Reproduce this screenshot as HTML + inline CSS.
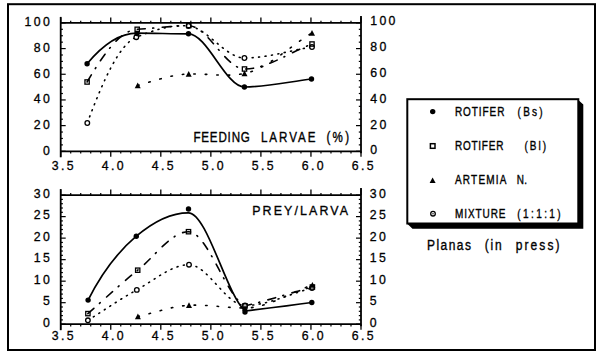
<!DOCTYPE html><html><head><meta charset="utf-8"><style>html,body{margin:0;padding:0;background:#fff;} svg{display:block} text{font-family:"Liberation Sans", sans-serif;fill:#000;stroke:#000;stroke-width:0.3px}</style></head><body>
<svg width="600" height="357" viewBox="0 0 600 357">
<rect x="0" y="0" width="600" height="357" fill="#fff"/>
<rect x="8" y="4.2" width="587" height="345.8" fill="none" stroke="#000" stroke-width="2"/>
<line x1="60.70" y1="16.90" x2="60.70" y2="157.30" stroke="#000" stroke-width="1.8"/>
<line x1="361.00" y1="15.90" x2="361.00" y2="153.30" stroke="#000" stroke-width="1.8"/>
<line x1="60.70" y1="22.90" x2="361.00" y2="22.90" stroke="#000" stroke-width="1.7"/>
<line x1="60.70" y1="151.30" x2="361.00" y2="151.30" stroke="#000" stroke-width="1.7"/>
<line x1="60.70" y1="17.40" x2="60.70" y2="22.90" stroke="#000" stroke-width="1.3"/>
<line x1="60.70" y1="151.30" x2="60.70" y2="156.80" stroke="#000" stroke-width="1.3"/>
<line x1="70.71" y1="20.70" x2="70.71" y2="22.90" stroke="#000" stroke-width="1.2"/>
<line x1="70.71" y1="151.30" x2="70.71" y2="153.50" stroke="#000" stroke-width="1.2"/>
<line x1="80.72" y1="20.70" x2="80.72" y2="22.90" stroke="#000" stroke-width="1.2"/>
<line x1="80.72" y1="151.30" x2="80.72" y2="153.50" stroke="#000" stroke-width="1.2"/>
<line x1="90.73" y1="20.70" x2="90.73" y2="22.90" stroke="#000" stroke-width="1.2"/>
<line x1="90.73" y1="151.30" x2="90.73" y2="153.50" stroke="#000" stroke-width="1.2"/>
<line x1="100.74" y1="20.70" x2="100.74" y2="22.90" stroke="#000" stroke-width="1.2"/>
<line x1="100.74" y1="151.30" x2="100.74" y2="153.50" stroke="#000" stroke-width="1.2"/>
<line x1="110.75" y1="17.40" x2="110.75" y2="22.90" stroke="#000" stroke-width="1.3"/>
<line x1="110.75" y1="151.30" x2="110.75" y2="156.80" stroke="#000" stroke-width="1.3"/>
<line x1="120.76" y1="20.70" x2="120.76" y2="22.90" stroke="#000" stroke-width="1.2"/>
<line x1="120.76" y1="151.30" x2="120.76" y2="153.50" stroke="#000" stroke-width="1.2"/>
<line x1="130.77" y1="20.70" x2="130.77" y2="22.90" stroke="#000" stroke-width="1.2"/>
<line x1="130.77" y1="151.30" x2="130.77" y2="153.50" stroke="#000" stroke-width="1.2"/>
<line x1="140.78" y1="20.70" x2="140.78" y2="22.90" stroke="#000" stroke-width="1.2"/>
<line x1="140.78" y1="151.30" x2="140.78" y2="153.50" stroke="#000" stroke-width="1.2"/>
<line x1="150.79" y1="20.70" x2="150.79" y2="22.90" stroke="#000" stroke-width="1.2"/>
<line x1="150.79" y1="151.30" x2="150.79" y2="153.50" stroke="#000" stroke-width="1.2"/>
<line x1="160.80" y1="17.40" x2="160.80" y2="22.90" stroke="#000" stroke-width="1.3"/>
<line x1="160.80" y1="151.30" x2="160.80" y2="156.80" stroke="#000" stroke-width="1.3"/>
<line x1="170.81" y1="20.70" x2="170.81" y2="22.90" stroke="#000" stroke-width="1.2"/>
<line x1="170.81" y1="151.30" x2="170.81" y2="153.50" stroke="#000" stroke-width="1.2"/>
<line x1="180.82" y1="20.70" x2="180.82" y2="22.90" stroke="#000" stroke-width="1.2"/>
<line x1="180.82" y1="151.30" x2="180.82" y2="153.50" stroke="#000" stroke-width="1.2"/>
<line x1="190.83" y1="20.70" x2="190.83" y2="22.90" stroke="#000" stroke-width="1.2"/>
<line x1="190.83" y1="151.30" x2="190.83" y2="153.50" stroke="#000" stroke-width="1.2"/>
<line x1="200.84" y1="20.70" x2="200.84" y2="22.90" stroke="#000" stroke-width="1.2"/>
<line x1="200.84" y1="151.30" x2="200.84" y2="153.50" stroke="#000" stroke-width="1.2"/>
<line x1="210.85" y1="17.40" x2="210.85" y2="22.90" stroke="#000" stroke-width="1.3"/>
<line x1="210.85" y1="151.30" x2="210.85" y2="156.80" stroke="#000" stroke-width="1.3"/>
<line x1="220.86" y1="20.70" x2="220.86" y2="22.90" stroke="#000" stroke-width="1.2"/>
<line x1="220.86" y1="151.30" x2="220.86" y2="153.50" stroke="#000" stroke-width="1.2"/>
<line x1="230.87" y1="20.70" x2="230.87" y2="22.90" stroke="#000" stroke-width="1.2"/>
<line x1="230.87" y1="151.30" x2="230.87" y2="153.50" stroke="#000" stroke-width="1.2"/>
<line x1="240.88" y1="20.70" x2="240.88" y2="22.90" stroke="#000" stroke-width="1.2"/>
<line x1="240.88" y1="151.30" x2="240.88" y2="153.50" stroke="#000" stroke-width="1.2"/>
<line x1="250.89" y1="20.70" x2="250.89" y2="22.90" stroke="#000" stroke-width="1.2"/>
<line x1="250.89" y1="151.30" x2="250.89" y2="153.50" stroke="#000" stroke-width="1.2"/>
<line x1="260.90" y1="17.40" x2="260.90" y2="22.90" stroke="#000" stroke-width="1.3"/>
<line x1="260.90" y1="151.30" x2="260.90" y2="156.80" stroke="#000" stroke-width="1.3"/>
<line x1="270.91" y1="20.70" x2="270.91" y2="22.90" stroke="#000" stroke-width="1.2"/>
<line x1="270.91" y1="151.30" x2="270.91" y2="153.50" stroke="#000" stroke-width="1.2"/>
<line x1="280.92" y1="20.70" x2="280.92" y2="22.90" stroke="#000" stroke-width="1.2"/>
<line x1="280.92" y1="151.30" x2="280.92" y2="153.50" stroke="#000" stroke-width="1.2"/>
<line x1="290.93" y1="20.70" x2="290.93" y2="22.90" stroke="#000" stroke-width="1.2"/>
<line x1="290.93" y1="151.30" x2="290.93" y2="153.50" stroke="#000" stroke-width="1.2"/>
<line x1="300.94" y1="20.70" x2="300.94" y2="22.90" stroke="#000" stroke-width="1.2"/>
<line x1="300.94" y1="151.30" x2="300.94" y2="153.50" stroke="#000" stroke-width="1.2"/>
<line x1="310.95" y1="17.40" x2="310.95" y2="22.90" stroke="#000" stroke-width="1.3"/>
<line x1="310.95" y1="151.30" x2="310.95" y2="156.80" stroke="#000" stroke-width="1.3"/>
<line x1="320.96" y1="20.70" x2="320.96" y2="22.90" stroke="#000" stroke-width="1.2"/>
<line x1="320.96" y1="151.30" x2="320.96" y2="153.50" stroke="#000" stroke-width="1.2"/>
<line x1="330.97" y1="20.70" x2="330.97" y2="22.90" stroke="#000" stroke-width="1.2"/>
<line x1="330.97" y1="151.30" x2="330.97" y2="153.50" stroke="#000" stroke-width="1.2"/>
<line x1="340.98" y1="20.70" x2="340.98" y2="22.90" stroke="#000" stroke-width="1.2"/>
<line x1="340.98" y1="151.30" x2="340.98" y2="153.50" stroke="#000" stroke-width="1.2"/>
<line x1="350.99" y1="20.70" x2="350.99" y2="22.90" stroke="#000" stroke-width="1.2"/>
<line x1="350.99" y1="151.30" x2="350.99" y2="153.50" stroke="#000" stroke-width="1.2"/>
<line x1="361.00" y1="17.40" x2="361.00" y2="22.90" stroke="#000" stroke-width="1.3"/>
<line x1="361.00" y1="151.30" x2="361.00" y2="156.80" stroke="#000" stroke-width="1.3"/>
<line x1="60.70" y1="151.30" x2="65.70" y2="151.30" stroke="#000" stroke-width="1.2"/>
<line x1="356.00" y1="151.30" x2="361.00" y2="151.30" stroke="#000" stroke-width="1.2"/>
<line x1="60.70" y1="144.88" x2="62.90" y2="144.88" stroke="#000" stroke-width="1.2"/>
<line x1="358.80" y1="144.88" x2="361.00" y2="144.88" stroke="#000" stroke-width="1.2"/>
<line x1="60.70" y1="138.46" x2="62.90" y2="138.46" stroke="#000" stroke-width="1.2"/>
<line x1="358.80" y1="138.46" x2="361.00" y2="138.46" stroke="#000" stroke-width="1.2"/>
<line x1="60.70" y1="132.04" x2="62.90" y2="132.04" stroke="#000" stroke-width="1.2"/>
<line x1="358.80" y1="132.04" x2="361.00" y2="132.04" stroke="#000" stroke-width="1.2"/>
<line x1="60.70" y1="125.62" x2="65.70" y2="125.62" stroke="#000" stroke-width="1.2"/>
<line x1="356.00" y1="125.62" x2="361.00" y2="125.62" stroke="#000" stroke-width="1.2"/>
<line x1="60.70" y1="119.20" x2="62.90" y2="119.20" stroke="#000" stroke-width="1.2"/>
<line x1="358.80" y1="119.20" x2="361.00" y2="119.20" stroke="#000" stroke-width="1.2"/>
<line x1="60.70" y1="112.78" x2="62.90" y2="112.78" stroke="#000" stroke-width="1.2"/>
<line x1="358.80" y1="112.78" x2="361.00" y2="112.78" stroke="#000" stroke-width="1.2"/>
<line x1="60.70" y1="106.36" x2="62.90" y2="106.36" stroke="#000" stroke-width="1.2"/>
<line x1="358.80" y1="106.36" x2="361.00" y2="106.36" stroke="#000" stroke-width="1.2"/>
<line x1="60.70" y1="99.94" x2="65.70" y2="99.94" stroke="#000" stroke-width="1.2"/>
<line x1="356.00" y1="99.94" x2="361.00" y2="99.94" stroke="#000" stroke-width="1.2"/>
<line x1="60.70" y1="93.52" x2="62.90" y2="93.52" stroke="#000" stroke-width="1.2"/>
<line x1="358.80" y1="93.52" x2="361.00" y2="93.52" stroke="#000" stroke-width="1.2"/>
<line x1="60.70" y1="87.10" x2="62.90" y2="87.10" stroke="#000" stroke-width="1.2"/>
<line x1="358.80" y1="87.10" x2="361.00" y2="87.10" stroke="#000" stroke-width="1.2"/>
<line x1="60.70" y1="80.68" x2="62.90" y2="80.68" stroke="#000" stroke-width="1.2"/>
<line x1="358.80" y1="80.68" x2="361.00" y2="80.68" stroke="#000" stroke-width="1.2"/>
<line x1="60.70" y1="74.26" x2="65.70" y2="74.26" stroke="#000" stroke-width="1.2"/>
<line x1="356.00" y1="74.26" x2="361.00" y2="74.26" stroke="#000" stroke-width="1.2"/>
<line x1="60.70" y1="67.84" x2="62.90" y2="67.84" stroke="#000" stroke-width="1.2"/>
<line x1="358.80" y1="67.84" x2="361.00" y2="67.84" stroke="#000" stroke-width="1.2"/>
<line x1="60.70" y1="61.42" x2="62.90" y2="61.42" stroke="#000" stroke-width="1.2"/>
<line x1="358.80" y1="61.42" x2="361.00" y2="61.42" stroke="#000" stroke-width="1.2"/>
<line x1="60.70" y1="55.00" x2="62.90" y2="55.00" stroke="#000" stroke-width="1.2"/>
<line x1="358.80" y1="55.00" x2="361.00" y2="55.00" stroke="#000" stroke-width="1.2"/>
<line x1="60.70" y1="48.58" x2="65.70" y2="48.58" stroke="#000" stroke-width="1.2"/>
<line x1="356.00" y1="48.58" x2="361.00" y2="48.58" stroke="#000" stroke-width="1.2"/>
<line x1="60.70" y1="42.16" x2="62.90" y2="42.16" stroke="#000" stroke-width="1.2"/>
<line x1="358.80" y1="42.16" x2="361.00" y2="42.16" stroke="#000" stroke-width="1.2"/>
<line x1="60.70" y1="35.74" x2="62.90" y2="35.74" stroke="#000" stroke-width="1.2"/>
<line x1="358.80" y1="35.74" x2="361.00" y2="35.74" stroke="#000" stroke-width="1.2"/>
<line x1="60.70" y1="29.32" x2="62.90" y2="29.32" stroke="#000" stroke-width="1.2"/>
<line x1="358.80" y1="29.32" x2="361.00" y2="29.32" stroke="#000" stroke-width="1.2"/>
<line x1="60.70" y1="22.90" x2="65.70" y2="22.90" stroke="#000" stroke-width="1.2"/>
<line x1="356.00" y1="22.90" x2="361.00" y2="22.90" stroke="#000" stroke-width="1.2"/>
<line x1="60.70" y1="189.10" x2="60.70" y2="330.20" stroke="#000" stroke-width="1.8"/>
<line x1="361.00" y1="188.10" x2="361.00" y2="326.20" stroke="#000" stroke-width="1.8"/>
<line x1="60.70" y1="195.10" x2="361.00" y2="195.10" stroke="#000" stroke-width="1.7"/>
<line x1="60.70" y1="324.20" x2="361.00" y2="324.20" stroke="#000" stroke-width="1.7"/>
<line x1="60.70" y1="189.60" x2="60.70" y2="195.10" stroke="#000" stroke-width="1.3"/>
<line x1="60.70" y1="324.20" x2="60.70" y2="329.70" stroke="#000" stroke-width="1.3"/>
<line x1="70.71" y1="192.90" x2="70.71" y2="195.10" stroke="#000" stroke-width="1.2"/>
<line x1="70.71" y1="324.20" x2="70.71" y2="326.40" stroke="#000" stroke-width="1.2"/>
<line x1="80.72" y1="192.90" x2="80.72" y2="195.10" stroke="#000" stroke-width="1.2"/>
<line x1="80.72" y1="324.20" x2="80.72" y2="326.40" stroke="#000" stroke-width="1.2"/>
<line x1="90.73" y1="192.90" x2="90.73" y2="195.10" stroke="#000" stroke-width="1.2"/>
<line x1="90.73" y1="324.20" x2="90.73" y2="326.40" stroke="#000" stroke-width="1.2"/>
<line x1="100.74" y1="192.90" x2="100.74" y2="195.10" stroke="#000" stroke-width="1.2"/>
<line x1="100.74" y1="324.20" x2="100.74" y2="326.40" stroke="#000" stroke-width="1.2"/>
<line x1="110.75" y1="189.60" x2="110.75" y2="195.10" stroke="#000" stroke-width="1.3"/>
<line x1="110.75" y1="324.20" x2="110.75" y2="329.70" stroke="#000" stroke-width="1.3"/>
<line x1="120.76" y1="192.90" x2="120.76" y2="195.10" stroke="#000" stroke-width="1.2"/>
<line x1="120.76" y1="324.20" x2="120.76" y2="326.40" stroke="#000" stroke-width="1.2"/>
<line x1="130.77" y1="192.90" x2="130.77" y2="195.10" stroke="#000" stroke-width="1.2"/>
<line x1="130.77" y1="324.20" x2="130.77" y2="326.40" stroke="#000" stroke-width="1.2"/>
<line x1="140.78" y1="192.90" x2="140.78" y2="195.10" stroke="#000" stroke-width="1.2"/>
<line x1="140.78" y1="324.20" x2="140.78" y2="326.40" stroke="#000" stroke-width="1.2"/>
<line x1="150.79" y1="192.90" x2="150.79" y2="195.10" stroke="#000" stroke-width="1.2"/>
<line x1="150.79" y1="324.20" x2="150.79" y2="326.40" stroke="#000" stroke-width="1.2"/>
<line x1="160.80" y1="189.60" x2="160.80" y2="195.10" stroke="#000" stroke-width="1.3"/>
<line x1="160.80" y1="324.20" x2="160.80" y2="329.70" stroke="#000" stroke-width="1.3"/>
<line x1="170.81" y1="192.90" x2="170.81" y2="195.10" stroke="#000" stroke-width="1.2"/>
<line x1="170.81" y1="324.20" x2="170.81" y2="326.40" stroke="#000" stroke-width="1.2"/>
<line x1="180.82" y1="192.90" x2="180.82" y2="195.10" stroke="#000" stroke-width="1.2"/>
<line x1="180.82" y1="324.20" x2="180.82" y2="326.40" stroke="#000" stroke-width="1.2"/>
<line x1="190.83" y1="192.90" x2="190.83" y2="195.10" stroke="#000" stroke-width="1.2"/>
<line x1="190.83" y1="324.20" x2="190.83" y2="326.40" stroke="#000" stroke-width="1.2"/>
<line x1="200.84" y1="192.90" x2="200.84" y2="195.10" stroke="#000" stroke-width="1.2"/>
<line x1="200.84" y1="324.20" x2="200.84" y2="326.40" stroke="#000" stroke-width="1.2"/>
<line x1="210.85" y1="189.60" x2="210.85" y2="195.10" stroke="#000" stroke-width="1.3"/>
<line x1="210.85" y1="324.20" x2="210.85" y2="329.70" stroke="#000" stroke-width="1.3"/>
<line x1="220.86" y1="192.90" x2="220.86" y2="195.10" stroke="#000" stroke-width="1.2"/>
<line x1="220.86" y1="324.20" x2="220.86" y2="326.40" stroke="#000" stroke-width="1.2"/>
<line x1="230.87" y1="192.90" x2="230.87" y2="195.10" stroke="#000" stroke-width="1.2"/>
<line x1="230.87" y1="324.20" x2="230.87" y2="326.40" stroke="#000" stroke-width="1.2"/>
<line x1="240.88" y1="192.90" x2="240.88" y2="195.10" stroke="#000" stroke-width="1.2"/>
<line x1="240.88" y1="324.20" x2="240.88" y2="326.40" stroke="#000" stroke-width="1.2"/>
<line x1="250.89" y1="192.90" x2="250.89" y2="195.10" stroke="#000" stroke-width="1.2"/>
<line x1="250.89" y1="324.20" x2="250.89" y2="326.40" stroke="#000" stroke-width="1.2"/>
<line x1="260.90" y1="189.60" x2="260.90" y2="195.10" stroke="#000" stroke-width="1.3"/>
<line x1="260.90" y1="324.20" x2="260.90" y2="329.70" stroke="#000" stroke-width="1.3"/>
<line x1="270.91" y1="192.90" x2="270.91" y2="195.10" stroke="#000" stroke-width="1.2"/>
<line x1="270.91" y1="324.20" x2="270.91" y2="326.40" stroke="#000" stroke-width="1.2"/>
<line x1="280.92" y1="192.90" x2="280.92" y2="195.10" stroke="#000" stroke-width="1.2"/>
<line x1="280.92" y1="324.20" x2="280.92" y2="326.40" stroke="#000" stroke-width="1.2"/>
<line x1="290.93" y1="192.90" x2="290.93" y2="195.10" stroke="#000" stroke-width="1.2"/>
<line x1="290.93" y1="324.20" x2="290.93" y2="326.40" stroke="#000" stroke-width="1.2"/>
<line x1="300.94" y1="192.90" x2="300.94" y2="195.10" stroke="#000" stroke-width="1.2"/>
<line x1="300.94" y1="324.20" x2="300.94" y2="326.40" stroke="#000" stroke-width="1.2"/>
<line x1="310.95" y1="189.60" x2="310.95" y2="195.10" stroke="#000" stroke-width="1.3"/>
<line x1="310.95" y1="324.20" x2="310.95" y2="329.70" stroke="#000" stroke-width="1.3"/>
<line x1="320.96" y1="192.90" x2="320.96" y2="195.10" stroke="#000" stroke-width="1.2"/>
<line x1="320.96" y1="324.20" x2="320.96" y2="326.40" stroke="#000" stroke-width="1.2"/>
<line x1="330.97" y1="192.90" x2="330.97" y2="195.10" stroke="#000" stroke-width="1.2"/>
<line x1="330.97" y1="324.20" x2="330.97" y2="326.40" stroke="#000" stroke-width="1.2"/>
<line x1="340.98" y1="192.90" x2="340.98" y2="195.10" stroke="#000" stroke-width="1.2"/>
<line x1="340.98" y1="324.20" x2="340.98" y2="326.40" stroke="#000" stroke-width="1.2"/>
<line x1="350.99" y1="192.90" x2="350.99" y2="195.10" stroke="#000" stroke-width="1.2"/>
<line x1="350.99" y1="324.20" x2="350.99" y2="326.40" stroke="#000" stroke-width="1.2"/>
<line x1="361.00" y1="189.60" x2="361.00" y2="195.10" stroke="#000" stroke-width="1.3"/>
<line x1="361.00" y1="324.20" x2="361.00" y2="329.70" stroke="#000" stroke-width="1.3"/>
<line x1="60.70" y1="324.20" x2="65.70" y2="324.20" stroke="#000" stroke-width="1.2"/>
<line x1="356.00" y1="324.20" x2="361.00" y2="324.20" stroke="#000" stroke-width="1.2"/>
<line x1="60.70" y1="319.90" x2="62.90" y2="319.90" stroke="#000" stroke-width="1.2"/>
<line x1="358.80" y1="319.90" x2="361.00" y2="319.90" stroke="#000" stroke-width="1.2"/>
<line x1="60.70" y1="315.59" x2="62.90" y2="315.59" stroke="#000" stroke-width="1.2"/>
<line x1="358.80" y1="315.59" x2="361.00" y2="315.59" stroke="#000" stroke-width="1.2"/>
<line x1="60.70" y1="311.29" x2="62.90" y2="311.29" stroke="#000" stroke-width="1.2"/>
<line x1="358.80" y1="311.29" x2="361.00" y2="311.29" stroke="#000" stroke-width="1.2"/>
<line x1="60.70" y1="306.99" x2="62.90" y2="306.99" stroke="#000" stroke-width="1.2"/>
<line x1="358.80" y1="306.99" x2="361.00" y2="306.99" stroke="#000" stroke-width="1.2"/>
<line x1="60.70" y1="302.68" x2="65.70" y2="302.68" stroke="#000" stroke-width="1.2"/>
<line x1="356.00" y1="302.68" x2="361.00" y2="302.68" stroke="#000" stroke-width="1.2"/>
<line x1="60.70" y1="298.38" x2="62.90" y2="298.38" stroke="#000" stroke-width="1.2"/>
<line x1="358.80" y1="298.38" x2="361.00" y2="298.38" stroke="#000" stroke-width="1.2"/>
<line x1="60.70" y1="294.08" x2="62.90" y2="294.08" stroke="#000" stroke-width="1.2"/>
<line x1="358.80" y1="294.08" x2="361.00" y2="294.08" stroke="#000" stroke-width="1.2"/>
<line x1="60.70" y1="289.77" x2="62.90" y2="289.77" stroke="#000" stroke-width="1.2"/>
<line x1="358.80" y1="289.77" x2="361.00" y2="289.77" stroke="#000" stroke-width="1.2"/>
<line x1="60.70" y1="285.47" x2="62.90" y2="285.47" stroke="#000" stroke-width="1.2"/>
<line x1="358.80" y1="285.47" x2="361.00" y2="285.47" stroke="#000" stroke-width="1.2"/>
<line x1="60.70" y1="281.17" x2="65.70" y2="281.17" stroke="#000" stroke-width="1.2"/>
<line x1="356.00" y1="281.17" x2="361.00" y2="281.17" stroke="#000" stroke-width="1.2"/>
<line x1="60.70" y1="276.86" x2="62.90" y2="276.86" stroke="#000" stroke-width="1.2"/>
<line x1="358.80" y1="276.86" x2="361.00" y2="276.86" stroke="#000" stroke-width="1.2"/>
<line x1="60.70" y1="272.56" x2="62.90" y2="272.56" stroke="#000" stroke-width="1.2"/>
<line x1="358.80" y1="272.56" x2="361.00" y2="272.56" stroke="#000" stroke-width="1.2"/>
<line x1="60.70" y1="268.26" x2="62.90" y2="268.26" stroke="#000" stroke-width="1.2"/>
<line x1="358.80" y1="268.26" x2="361.00" y2="268.26" stroke="#000" stroke-width="1.2"/>
<line x1="60.70" y1="263.95" x2="62.90" y2="263.95" stroke="#000" stroke-width="1.2"/>
<line x1="358.80" y1="263.95" x2="361.00" y2="263.95" stroke="#000" stroke-width="1.2"/>
<line x1="60.70" y1="259.65" x2="65.70" y2="259.65" stroke="#000" stroke-width="1.2"/>
<line x1="356.00" y1="259.65" x2="361.00" y2="259.65" stroke="#000" stroke-width="1.2"/>
<line x1="60.70" y1="255.35" x2="62.90" y2="255.35" stroke="#000" stroke-width="1.2"/>
<line x1="358.80" y1="255.35" x2="361.00" y2="255.35" stroke="#000" stroke-width="1.2"/>
<line x1="60.70" y1="251.04" x2="62.90" y2="251.04" stroke="#000" stroke-width="1.2"/>
<line x1="358.80" y1="251.04" x2="361.00" y2="251.04" stroke="#000" stroke-width="1.2"/>
<line x1="60.70" y1="246.74" x2="62.90" y2="246.74" stroke="#000" stroke-width="1.2"/>
<line x1="358.80" y1="246.74" x2="361.00" y2="246.74" stroke="#000" stroke-width="1.2"/>
<line x1="60.70" y1="242.44" x2="62.90" y2="242.44" stroke="#000" stroke-width="1.2"/>
<line x1="358.80" y1="242.44" x2="361.00" y2="242.44" stroke="#000" stroke-width="1.2"/>
<line x1="60.70" y1="238.13" x2="65.70" y2="238.13" stroke="#000" stroke-width="1.2"/>
<line x1="356.00" y1="238.13" x2="361.00" y2="238.13" stroke="#000" stroke-width="1.2"/>
<line x1="60.70" y1="233.83" x2="62.90" y2="233.83" stroke="#000" stroke-width="1.2"/>
<line x1="358.80" y1="233.83" x2="361.00" y2="233.83" stroke="#000" stroke-width="1.2"/>
<line x1="60.70" y1="229.53" x2="62.90" y2="229.53" stroke="#000" stroke-width="1.2"/>
<line x1="358.80" y1="229.53" x2="361.00" y2="229.53" stroke="#000" stroke-width="1.2"/>
<line x1="60.70" y1="225.22" x2="62.90" y2="225.22" stroke="#000" stroke-width="1.2"/>
<line x1="358.80" y1="225.22" x2="361.00" y2="225.22" stroke="#000" stroke-width="1.2"/>
<line x1="60.70" y1="220.92" x2="62.90" y2="220.92" stroke="#000" stroke-width="1.2"/>
<line x1="358.80" y1="220.92" x2="361.00" y2="220.92" stroke="#000" stroke-width="1.2"/>
<line x1="60.70" y1="216.62" x2="65.70" y2="216.62" stroke="#000" stroke-width="1.2"/>
<line x1="356.00" y1="216.62" x2="361.00" y2="216.62" stroke="#000" stroke-width="1.2"/>
<line x1="60.70" y1="212.31" x2="62.90" y2="212.31" stroke="#000" stroke-width="1.2"/>
<line x1="358.80" y1="212.31" x2="361.00" y2="212.31" stroke="#000" stroke-width="1.2"/>
<line x1="60.70" y1="208.01" x2="62.90" y2="208.01" stroke="#000" stroke-width="1.2"/>
<line x1="358.80" y1="208.01" x2="361.00" y2="208.01" stroke="#000" stroke-width="1.2"/>
<line x1="60.70" y1="203.71" x2="62.90" y2="203.71" stroke="#000" stroke-width="1.2"/>
<line x1="358.80" y1="203.71" x2="361.00" y2="203.71" stroke="#000" stroke-width="1.2"/>
<line x1="60.70" y1="199.40" x2="62.90" y2="199.40" stroke="#000" stroke-width="1.2"/>
<line x1="358.80" y1="199.40" x2="361.00" y2="199.40" stroke="#000" stroke-width="1.2"/>
<line x1="60.70" y1="195.10" x2="65.70" y2="195.10" stroke="#000" stroke-width="1.2"/>
<line x1="356.00" y1="195.10" x2="361.00" y2="195.10" stroke="#000" stroke-width="1.2"/>
<text transform="translate(52.40,154.70) scale(1,1.03)" font-size="12.3" letter-spacing="2.5" text-anchor="end" font-weight="normal">0</text>
<text transform="translate(370.30,154.40) scale(1,1.03)" font-size="12.3" letter-spacing="2.3" text-anchor="start" font-weight="normal">0</text>
<text transform="translate(52.40,129.02) scale(1,1.03)" font-size="12.3" letter-spacing="2.5" text-anchor="end" font-weight="normal">20</text>
<text transform="translate(370.30,128.72) scale(1,1.03)" font-size="12.3" letter-spacing="2.3" text-anchor="start" font-weight="normal">20</text>
<text transform="translate(52.40,103.34) scale(1,1.03)" font-size="12.3" letter-spacing="2.5" text-anchor="end" font-weight="normal">40</text>
<text transform="translate(370.30,103.04) scale(1,1.03)" font-size="12.3" letter-spacing="2.3" text-anchor="start" font-weight="normal">40</text>
<text transform="translate(52.40,77.66) scale(1,1.03)" font-size="12.3" letter-spacing="2.5" text-anchor="end" font-weight="normal">60</text>
<text transform="translate(370.30,76.66) scale(1,1.03)" font-size="12.3" letter-spacing="2.3" text-anchor="start" font-weight="normal">60</text>
<text transform="translate(52.40,51.98) scale(1,1.03)" font-size="12.3" letter-spacing="2.5" text-anchor="end" font-weight="normal">80</text>
<text transform="translate(370.30,50.98) scale(1,1.03)" font-size="12.3" letter-spacing="2.3" text-anchor="start" font-weight="normal">80</text>
<text transform="translate(52.40,26.30) scale(1,1.03)" font-size="12.3" letter-spacing="2.5" text-anchor="end" font-weight="normal">100</text>
<text transform="translate(370.30,25.30) scale(1,1.03)" font-size="12.3" letter-spacing="2.3" text-anchor="start" font-weight="normal">100</text>
<text transform="translate(52.40,326.70) scale(1,1.03)" font-size="12.3" letter-spacing="2.5" text-anchor="end" font-weight="normal">0</text>
<text transform="translate(369.80,326.70) scale(1,1.03)" font-size="12.3" letter-spacing="2.3" text-anchor="start" font-weight="normal">0</text>
<text transform="translate(52.40,305.18) scale(1,1.03)" font-size="12.3" letter-spacing="2.5" text-anchor="end" font-weight="normal">5</text>
<text transform="translate(369.80,305.18) scale(1,1.03)" font-size="12.3" letter-spacing="2.3" text-anchor="start" font-weight="normal">5</text>
<text transform="translate(52.40,283.67) scale(1,1.03)" font-size="12.3" letter-spacing="2.5" text-anchor="end" font-weight="normal">10</text>
<text transform="translate(369.80,283.67) scale(1,1.03)" font-size="12.3" letter-spacing="2.3" text-anchor="start" font-weight="normal">10</text>
<text transform="translate(52.40,262.15) scale(1,1.03)" font-size="12.3" letter-spacing="2.5" text-anchor="end" font-weight="normal">15</text>
<text transform="translate(369.80,262.15) scale(1,1.03)" font-size="12.3" letter-spacing="2.3" text-anchor="start" font-weight="normal">15</text>
<text transform="translate(52.40,240.63) scale(1,1.03)" font-size="12.3" letter-spacing="2.5" text-anchor="end" font-weight="normal">20</text>
<text transform="translate(369.80,240.63) scale(1,1.03)" font-size="12.3" letter-spacing="2.3" text-anchor="start" font-weight="normal">20</text>
<text transform="translate(52.40,219.12) scale(1,1.03)" font-size="12.3" letter-spacing="2.5" text-anchor="end" font-weight="normal">25</text>
<text transform="translate(369.80,219.12) scale(1,1.03)" font-size="12.3" letter-spacing="2.3" text-anchor="start" font-weight="normal">25</text>
<text transform="translate(52.40,197.60) scale(1,1.03)" font-size="12.3" letter-spacing="2.5" text-anchor="end" font-weight="normal">30</text>
<text transform="translate(369.80,197.60) scale(1,1.03)" font-size="12.3" letter-spacing="2.3" text-anchor="start" font-weight="normal">30</text>
<text transform="translate(51.70,170.20) scale(1,1.03)" font-size="12.3" letter-spacing="2.35" text-anchor="start" font-weight="normal">3.5</text>
<text transform="translate(51.70,340.40) scale(1,1.03)" font-size="12.3" letter-spacing="2.35" text-anchor="start" font-weight="normal">3.5</text>
<text transform="translate(101.70,170.20) scale(1,1.03)" font-size="12.3" letter-spacing="2.35" text-anchor="start" font-weight="normal">4.0</text>
<text transform="translate(101.70,340.40) scale(1,1.03)" font-size="12.3" letter-spacing="2.35" text-anchor="start" font-weight="normal">4.0</text>
<text transform="translate(151.70,170.20) scale(1,1.03)" font-size="12.3" letter-spacing="2.35" text-anchor="start" font-weight="normal">4.5</text>
<text transform="translate(151.70,340.40) scale(1,1.03)" font-size="12.3" letter-spacing="2.35" text-anchor="start" font-weight="normal">4.5</text>
<text transform="translate(201.70,170.20) scale(1,1.03)" font-size="12.3" letter-spacing="2.35" text-anchor="start" font-weight="normal">5.0</text>
<text transform="translate(201.70,340.40) scale(1,1.03)" font-size="12.3" letter-spacing="2.35" text-anchor="start" font-weight="normal">5.0</text>
<text transform="translate(251.70,170.20) scale(1,1.03)" font-size="12.3" letter-spacing="2.35" text-anchor="start" font-weight="normal">5.5</text>
<text transform="translate(251.70,340.40) scale(1,1.03)" font-size="12.3" letter-spacing="2.35" text-anchor="start" font-weight="normal">5.5</text>
<text transform="translate(301.70,170.20) scale(1,1.03)" font-size="12.3" letter-spacing="2.35" text-anchor="start" font-weight="normal">6.0</text>
<text transform="translate(301.70,340.40) scale(1,1.03)" font-size="12.3" letter-spacing="2.35" text-anchor="start" font-weight="normal">6.0</text>
<text transform="translate(351.70,170.20) scale(1,1.03)" font-size="12.3" letter-spacing="2.35" text-anchor="start" font-weight="normal">6.5</text>
<text transform="translate(351.70,340.40) scale(1,1.03)" font-size="12.3" letter-spacing="2.35" text-anchor="start" font-weight="normal">6.5</text>
<path d="M87.10,63.80 C103.73,43.84 120.37,33.20 137.00,33.20 C154.17,33.20 171.33,33.80 188.50,33.80 C207.13,33.80 225.77,87.00 244.40,87.00 C266.77,87.00 289.13,81.68 311.50,79.00" fill="none" stroke="#000" stroke-width="1.7" stroke-linecap="round"/>
<path d="M87.10,82.00 C103.80,53.61 120.50,30.14 137.20,29.30 C154.40,28.44 171.60,25.80 188.80,25.80 C207.37,25.80 225.93,69.00 244.50,69.00 C267.00,69.00 289.50,52.33 312.00,44.00" fill="none" stroke="#000" stroke-width="1.6" stroke-linecap="round" stroke-dasharray="8 7.5 1 8.5"/>
<path d="M87.30,123.00 C103.63,78.90 119.97,43.73 136.30,37.20 C153.70,30.24 171.10,24.26 188.50,26.00 C207.13,27.86 225.77,58.00 244.40,58.00 C266.93,58.00 289.47,50.61 312.00,47.00" fill="none" stroke="#000" stroke-width="1.6" stroke-linecap="round" stroke-dasharray="1 5.5"/>
<path d="M137.70,85.50 C154.70,80.74 171.70,74.51 188.70,74.00 C207.30,73.44 225.90,77.22 244.50,73.50 C267.00,69.00 289.50,46.50 312.00,33.00" fill="none" stroke="#000" stroke-width="1.6" stroke-linecap="round" stroke-dasharray="1.5 10"/>
<circle cx="87.3" cy="123" r="2.3" fill="#fff" stroke="#000" stroke-width="1.3"/>
<circle cx="136.3" cy="37.2" r="2.3" fill="#fff" stroke="#000" stroke-width="1.3"/>
<circle cx="188.5" cy="26" r="2.3" fill="#fff" stroke="#000" stroke-width="1.3"/>
<circle cx="244.4" cy="58" r="2.3" fill="#fff" stroke="#000" stroke-width="1.3"/>
<circle cx="312" cy="47" r="2.3" fill="#fff" stroke="#000" stroke-width="1.3"/>
<polygon points="137.70,82.50 140.70,88.20 134.70,88.20" fill="#000"/>
<polygon points="188.70,71.00 191.70,76.70 185.70,76.70" fill="#000"/>
<polygon points="244.50,70.50 247.50,76.20 241.50,76.20" fill="#000"/>
<polygon points="312.00,30.00 315.00,35.70 309.00,35.70" fill="#000"/>
<rect x="84.95" y="79.85" width="4.3" height="4.3" fill="none" stroke="#000" stroke-width="1.3"/>
<rect x="135.05" y="27.15" width="4.3" height="4.3" fill="none" stroke="#000" stroke-width="1.3"/>
<rect x="186.65" y="23.35" width="4.3" height="4.3" fill="none" stroke="#000" stroke-width="1.3"/>
<rect x="242.35" y="66.85" width="4.3" height="4.3" fill="none" stroke="#000" stroke-width="1.3"/>
<rect x="309.85" y="41.85" width="4.3" height="4.3" fill="none" stroke="#000" stroke-width="1.3"/>
<circle cx="87.1" cy="63.8" r="2.7" fill="#000"/>
<circle cx="137" cy="33.5" r="2.7" fill="#000"/>
<circle cx="188.5" cy="33.8" r="2.7" fill="#000"/>
<circle cx="244.4" cy="87" r="2.7" fill="#000"/>
<circle cx="311.5" cy="79" r="2.7" fill="#000"/>
<path d="M88.10,300.10 C104.17,267.97 120.23,249.86 136.30,236.20 C153.63,221.47 170.97,212.80 188.30,212.80 C207.20,212.80 226.10,293.99 245.00,311.00 C267.27,308.33 289.53,305.62 311.80,302.50" fill="none" stroke="#000" stroke-width="1.7" stroke-linecap="round"/>
<path d="M87.90,313.60 C104.50,299.16 121.10,283.48 137.70,270.20 C154.63,256.65 171.57,231.70 188.50,231.70 C207.33,231.70 226.17,296.58 245.00,306.00 C267.47,300.38 289.93,293.29 312.40,287.00" fill="none" stroke="#000" stroke-width="1.6" stroke-linecap="round" stroke-dasharray="8 7.5 1 8.5"/>
<path d="M87.90,320.30 C104.20,310.19 120.50,298.86 136.80,289.90 C154.20,280.33 171.60,264.70 189.00,264.70 C207.67,264.70 226.33,305.50 245.00,305.50 C267.33,305.50 289.67,293.81 312.00,288.00" fill="none" stroke="#000" stroke-width="1.6" stroke-linecap="round" stroke-dasharray="1 5.5"/>
<path d="M137.90,316.50 C154.93,312.75 171.97,306.15 189.00,305.30 C207.67,304.37 226.33,308.00 245.00,308.00 C267.47,308.00 289.93,292.64 312.40,285.00" fill="none" stroke="#000" stroke-width="1.6" stroke-linecap="round" stroke-dasharray="1.5 10"/>
<circle cx="87.9" cy="320.3" r="2.3" fill="#fff" stroke="#000" stroke-width="1.3"/>
<circle cx="136.8" cy="289.9" r="2.3" fill="#fff" stroke="#000" stroke-width="1.3"/>
<circle cx="189" cy="264.7" r="2.3" fill="#fff" stroke="#000" stroke-width="1.3"/>
<circle cx="245" cy="305.5" r="2.3" fill="#fff" stroke="#000" stroke-width="1.3"/>
<circle cx="312" cy="288" r="2.3" fill="#fff" stroke="#000" stroke-width="1.3"/>
<polygon points="137.90,313.50 140.90,319.20 134.90,319.20" fill="#000"/>
<polygon points="189.00,302.30 192.00,308.00 186.00,308.00" fill="#000"/>
<polygon points="245.00,305.00 248.00,310.70 242.00,310.70" fill="#000"/>
<polygon points="312.40,282.00 315.40,287.70 309.40,287.70" fill="#000"/>
<rect x="85.75" y="311.45" width="4.3" height="4.3" fill="none" stroke="#000" stroke-width="1.3"/>
<rect x="135.55" y="268.05" width="4.3" height="4.3" fill="none" stroke="#000" stroke-width="1.3"/>
<rect x="186.35" y="229.55" width="4.3" height="4.3" fill="none" stroke="#000" stroke-width="1.3"/>
<rect x="242.85" y="303.85" width="4.3" height="4.3" fill="none" stroke="#000" stroke-width="1.3"/>
<rect x="310.25" y="284.85" width="4.3" height="4.3" fill="none" stroke="#000" stroke-width="1.3"/>
<circle cx="88.1" cy="300.1" r="2.7" fill="#000"/>
<circle cx="136.3" cy="236.2" r="2.7" fill="#000"/>
<circle cx="188.5" cy="209" r="2.7" fill="#000"/>
<circle cx="245" cy="312" r="2.7" fill="#000"/>
<circle cx="311.8" cy="302.5" r="2.7" fill="#000"/>
<text transform="translate(193.40,141.80) scale(1,1.22)" font-size="11.6" letter-spacing="0" text-anchor="start" font-weight="normal" textLength="56.5" lengthAdjust="spacing">FEEDING</text>
<text transform="translate(260.90,141.80) scale(1,1.22)" font-size="11.6" letter-spacing="0" text-anchor="start" font-weight="normal" textLength="54.5" lengthAdjust="spacing">LARVAE</text>
<text transform="translate(326.50,141.80) scale(1,1.22)" font-size="11.6" letter-spacing="0" text-anchor="start" font-weight="normal" textLength="22.5" lengthAdjust="spacing">(%)</text>
<text transform="translate(252.20,214.80) scale(1,1.06)" font-size="12.4" letter-spacing="0" text-anchor="start" font-weight="normal" textLength="95.8" lengthAdjust="spacing">PREY/LARVA</text>
<rect x="407.3" y="99.2" width="171" height="124.3" fill="none" stroke="#000" stroke-width="2"/>
<polygon points="578,99.8 583.3,104.5 583.3,228.8 412.5,228.8 407.5,224 578,224" fill="#000"/>
<circle cx="432.7" cy="111.6" r="2.7" fill="#000"/>
<rect x="430.4" y="143.7" width="4.6" height="4.6" fill="none" stroke="#000" stroke-width="1.5"/>
<polygon points="432.6,177.6 435.6,183 429.6,183" fill="#000"/>
<circle cx="433" cy="213.7" r="2.3" fill="none" stroke="#000" stroke-width="1.3"/><circle cx="433" cy="213.7" r="0.7" fill="#000"/>
<text transform="translate(454.90,115.50) scale(1,1.2)" font-size="10.0" letter-spacing="0" text-anchor="start" font-weight="normal" textLength="49.5" lengthAdjust="spacing">ROTIFER</text>
<text transform="translate(517.60,115.50) scale(1,1.2)" font-size="10.0" letter-spacing="0" text-anchor="start" font-weight="normal" textLength="25" lengthAdjust="spacing">(Bs)</text>
<text transform="translate(454.90,149.80) scale(1,1.2)" font-size="10.0" letter-spacing="0" text-anchor="start" font-weight="normal" textLength="48.5" lengthAdjust="spacing">ROTIFER</text>
<text transform="translate(524.40,149.80) scale(1,1.2)" font-size="10.0" letter-spacing="0" text-anchor="start" font-weight="normal" textLength="21.8" lengthAdjust="spacing">(Bl)</text>
<text transform="translate(455.00,184.00) scale(1,1.2)" font-size="10.0" letter-spacing="0" text-anchor="start" font-weight="normal" textLength="51.5" lengthAdjust="spacing">ARTEMIA</text>
<text transform="translate(516.80,184.00) scale(1,1.2)" font-size="10.0" letter-spacing="0" text-anchor="start" font-weight="normal" textLength="10.2" lengthAdjust="spacing">N.</text>
<text transform="translate(455.00,218.00) scale(1,1.2)" font-size="10.0" letter-spacing="0" text-anchor="start" font-weight="normal" textLength="50.5" lengthAdjust="spacing">MIXTURE</text>
<text transform="translate(517.20,218.00) scale(1,1.2)" font-size="10.0" letter-spacing="0" text-anchor="start" font-weight="normal" textLength="43.5" lengthAdjust="spacing">(1:1:1)</text>
<text transform="translate(427.00,250.20) scale(1,1.15)" font-size="12.0" letter-spacing="0" text-anchor="start" font-weight="normal" textLength="44" lengthAdjust="spacing">Planas</text>
<text transform="translate(484.80,250.20) scale(1,1.15)" font-size="12.0" letter-spacing="0" text-anchor="start" font-weight="normal" textLength="16.8" lengthAdjust="spacing">(in</text>
<text transform="translate(515.70,250.20) scale(1,1.15)" font-size="12.0" letter-spacing="0" text-anchor="start" font-weight="normal" textLength="43.8" lengthAdjust="spacing">press)</text>
</svg></body></html>
